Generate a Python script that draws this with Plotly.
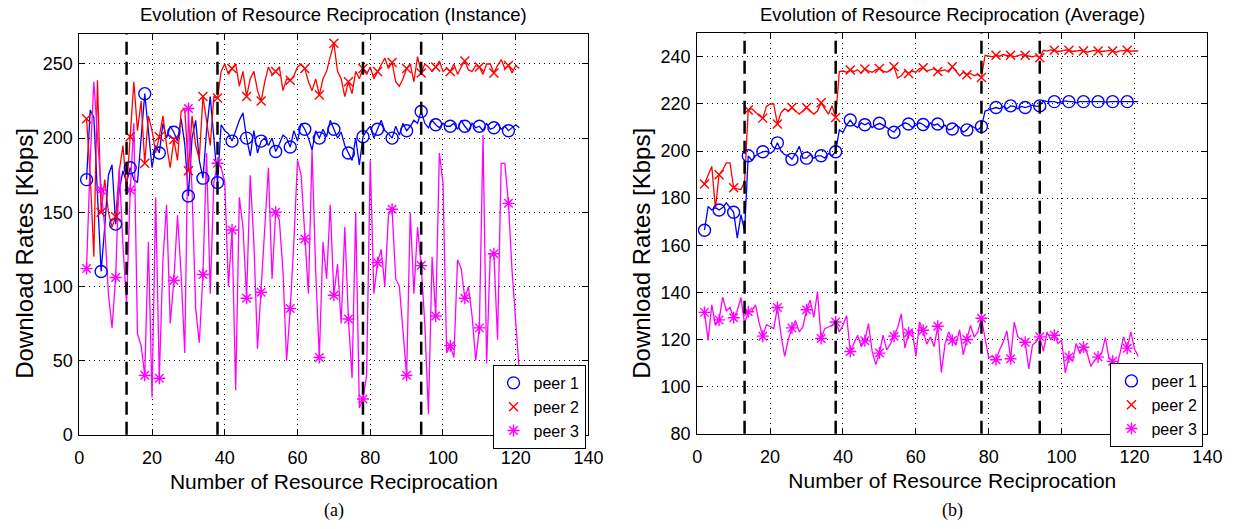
import plotly.graph_objects as go

# ---------------- data ----------------
reciprocation = list(range(2, 122))  # x index of each resource reciprocation
stage_boundaries = [13, 38, 78, 94]

# (a) Instance
peer1_inst = [172, 219, 214, 160, 110, 140, 175, 182, 142, 165,
              178, 170, 180, 172, 170, 200, 230, 205, 180, 195,
              190, 210, 200, 208, 204, 198, 213, 196, 161, 200,
              212, 185, 173, 205, 228, 200, 170, 209, 205, 203,
              198, 205, 212, 217, 200, 188, 205, 190, 198, 200,
              195, 200, 191, 196, 202, 200, 194, 205, 198, 210,
              206, 200, 192, 205, 200, 206, 201, 212, 206, 200,
              204, 195, 190, 185, 200, 182, 201, 205, 208, 200,
              206, 212, 205, 203, 200, 208, 202, 210, 205, 208,
              212, 210, 218, 210, 207, 212, 209, 207, 210, 208,
              208, 210, 206, 212, 208, 205, 210, 207, 208, 205,
              210, 206, 207, 210, 206, 208, 205, 207, 209, 207]
peer2_inst = [213, 175, 120, 239, 150, 172, 150, 140, 147, 178,
              195, 165, 201, 238, 205, 225, 183, 215, 205, 190,
              201, 215, 195, 180, 199, 185, 218, 220, 178, 215,
              195, 186, 228, 210, 195, 228, 227, 245, 250, 243,
              247, 250, 235, 245, 228, 240, 245, 232, 225, 238,
              248, 243, 245, 248, 232, 240, 239, 242, 248, 250,
              247, 238, 232, 240, 229, 240, 245, 255, 264, 245,
              240, 228, 238, 230, 245, 240, 247, 243, 248, 240,
              245, 250, 254, 247, 251, 238, 235, 240, 247, 250,
              238, 255, 244, 250, 248, 245, 248, 252, 245, 247,
              245, 250, 243, 248, 252, 246, 245, 249, 248, 243,
              250, 250, 244, 249, 253, 247, 249, 244, 249, 247]
peer3_inst = [112, 185, 238, 200, 165, 140, 95, 72, 106, 180,
              128, 88, 165, 210, 68, 60, 40, 130, 25, 160,
              38, 118, 155, 75, 104, 148, 108, 55, 220, 165,
              85, 62, 108, 190, 95, 170, 183, 180, 170, 100,
              138, 30, 160, 140, 92, 175, 130, 58, 96, 140,
              180, 105, 150, 145, 110, 50, 85, 130, 185, 175,
              132, 95, 192, 110, 52, 130, 105, 155, 94, 115,
              75, 140, 78, 38, 150, 18, 24, 40, 185, 95,
              116, 125, 100, 148, 152, 105, 100, 70, 40, 150,
              95, 140, 114, 75, 14, 120, 80, 190, 170, 55,
              60, 52, 118, 112, 92, 100, 80, 50, 72, 202,
              48, 122, 122, 64, 183, 183, 156, 110, 75, 42]

# (b) Average
peer1_avg = [166.4, 176.5, 175, 176, 175, 176, 178, 176, 174, 163,
             173, 166, 198, 196, 198, 199, 199.7, 200, 199, 200,
             203.5, 200, 198.5, 198, 196.5, 199, 202, 197, 197, 198.5,
             197, 198, 198, 197, 199, 198, 199.7, 209, 208, 211,
             213.2, 211, 210, 212, 211.2, 212, 210, 211, 211.8, 211,
             210, 209, 208, 210, 211, 212, 211.5, 210, 211, 212,
             211.3, 210, 212, 211, 211.5, 210, 211, 209, 209.4, 211,
             210, 208, 209, 211, 210, 209, 210.4, 217, 217.5, 218,
             218.5, 218, 219, 218, 219.2, 219, 218, 219, 218.5, 219,
             219.5, 219, 219.2, 221.5, 221, 221, 221, 220.5, 221, 221.3,
             221, 221, 220.5, 221, 221, 221, 221.2, 221, 221, 221,
             220.8, 221, 221, 221, 221, 221.2, 221, 221, 221.3, 221]
peer2_avg = [186, 190, 193.5, 175.4, 190, 192, 195, 195, 184.4, 184,
             183.7, 187, 217.4, 218, 216.4, 215, 214, 219, 220, 220,
             211.5, 216.4, 218, 217, 218.5, 217, 215.7, 217, 218.5, 217,
             215.7, 217, 220.5, 218, 215.7, 219.2, 214.3, 233.8, 234, 233.5,
             234.4, 233.8, 234.5, 233, 234.9, 234, 233.5, 234.5, 235.1, 234,
             233.5, 234.5, 235.8, 231, 232, 234, 233, 234, 233.5, 235,
             235.4, 234, 234.5, 235, 233.8, 234, 234.5, 233.5, 235.8, 234,
             232, 233.5, 232.4, 233, 232, 232.5, 231.3, 240.7, 240.5, 240,
             240.7, 240.3, 241, 240.5, 240.7, 240, 240.5, 241, 240.7, 240.3,
             240, 240.5, 239.6, 242.8, 242.5, 243, 242.8, 242.3, 242.5, 243,
             242.8, 242.3, 242.5, 242.8, 242.5, 242, 242.5, 242.8, 242.5, 242.3,
             242.5, 242.8, 242.5, 242, 242.6, 242.8, 242.8, 242.5, 242.5, 242.5]
peer3_avg = [131.5, 119.7, 134.7, 126, 128.3, 138, 132.2, 133.6, 129.2, 132.2,
             137.8, 126.7, 131.8, 132, 134.7, 127, 121.4, 126.3, 125.5, 124.6,
             133.6, 122, 112.8, 120, 124.9, 128, 123.2, 125.3, 132.6, 136.7,
             129.4, 140.3, 120.4, 124.6, 125.3, 126, 127.4, 123.2, 126, 130.1,
             114.9, 118, 121.8, 117, 119.4, 126.7, 115, 109.3, 114.2, 121.8,
             115.6, 118, 121.4, 125, 130.8, 116.3, 122.8, 123.9, 112.8, 127.4,
             123.9, 118, 121, 117, 125.6, 106, 118, 123.2, 119.7, 117.6,
             124.2, 113.5, 120, 126, 121, 123.2, 129, 120.4, 112.1, 113,
             111.4, 115.6, 119, 123.6, 111.8, 127.4, 121.1, 120, 118.8, 107.5,
             117.6, 119, 121.1, 114.9, 123.2, 120, 121.8, 118.3, 119.7, 105.8,
             112.5, 110.7, 118.3, 114, 116.7, 114.2, 108.6, 111, 112.5, 114.4,
             120.8, 112, 110.7, 108, 114, 121.1, 116.3, 123.2, 116, 112.8]

peer_names = ["peer 1", "peer 2", "peer 3"]
x_ticks = [0, 20, 40, 60, 80, 100, 120, 140]
y_ticks_inst = [0, 50, 100, 150, 200, 250]
y_ticks_avg = [80, 100, 120, 140, 160, 180, 200, 220, 240]

# ---------------- styling ----------------
W, H = 1246, 529
colors = ["#0000ff", "#ff0000", "#ff00ff"]
symbols = ["circle-open", "x-thin-open", "asterisk-open"]
msizes = [12, 9, 10]
FONT = "Liberation Sans"


def px_x(p):
    return p / W


def px_y(p):
    return 1 - p / H


fig = go.Figure()
panels = [
    ([peer1_inst, peer2_inst, peer3_inst], "x", "y", "legend"),
    ([peer1_avg, peer2_avg, peer3_avg], "x2", "y2", "legend2"),
]
for series, xa, ya, lg in panels:
    for i, vals in enumerate(series):
        fig.add_trace(go.Scatter(
            x=reciprocation, y=vals, mode="lines",
            line=dict(color=colors[i], width=1.3),
            xaxis=xa, yaxis=ya, showlegend=False, hoverinfo="skip"))
    for i, vals in enumerate(series):
        fig.add_trace(go.Scatter(
            x=reciprocation[0::4], y=vals[0::4], mode="markers",
            name=peer_names[i], legend=lg,
            marker=dict(symbol=symbols[i], size=msizes[i], color=colors[i],
                        line=dict(color=colors[i], width=1.4)),
            xaxis=xa, yaxis=ya, showlegend=True))

for xa in ["x", "x2"]:
    for b in stage_boundaries:
        fig.add_shape(type="line", xref=xa, yref=f"{'y' if xa == 'x' else 'y2'} domain",
                      x0=b, x1=b, y0=0, y1=1,
                      line=dict(color="black", width=2.5, dash="13px,7px"))

axis_common = dict(
    showline=True, linecolor="black", linewidth=1, mirror="ticks",
    ticks="inside", ticklen=6, tickcolor="black",
    showgrid=True, gridcolor="black", gridwidth=1, griddash="1px,4px",
    zeroline=False, tickfont=dict(family=FONT, size=18, color="black"),
)
xtitle = dict(text="Number of Resource Reciprocation", font=dict(size=21), standoff=7)

fig.update_layout(
    width=W, height=H, margin=dict(l=0, r=0, t=0, b=0),
    paper_bgcolor="white", plot_bgcolor="white",
    font=dict(family=FONT, color="black"),
    xaxis=dict(domain=[px_x(75.5), px_x(593)], range=[0, 140], tickvals=x_ticks,
               title=xtitle, anchor="y", ticklabelstandoff=7, **axis_common),
    yaxis=dict(domain=[px_y(443), px_y(35)], range=[0, 270], tickvals=y_ticks_inst,
               anchor="x", ticklabelstandoff=2, **axis_common),
    xaxis2=dict(domain=[px_x(703.5), px_x(1222)], range=[0, 140], tickvals=x_ticks,
                title=xtitle, anchor="y2", ticklabelstandoff=7, **axis_common),
    yaxis2=dict(domain=[px_y(442), px_y(34)], range=[80, 250], tickvals=y_ticks_avg,
                anchor="x2", ticklabelstandoff=2, **axis_common),
    legend=dict(x=px_x(590), y=px_y(372), xanchor="right", yanchor="top",
                bgcolor="white", bordercolor="black", borderwidth=1,
                font=dict(family=FONT, size=16, color="black"), tracegroupgap=0),
    legend2=dict(x=px_x(1218), y=px_y(370), xanchor="right", yanchor="top",
                 bgcolor="white", bordercolor="black", borderwidth=1,
                 font=dict(family=FONT, size=16, color="black"), tracegroupgap=0),
    showlegend=True,
)

titles = [("Evolution of Resource Reciprocation (Instance)", (75.5 + 593) / 2, "(a)", 19),
          ("Evolution of Resource Reciprocation (Average)", (703.5 + 1222) / 2, "(b)", 646)]
for t, cx, lab, ylab_x in titles:
    fig.add_annotation(text=t, x=px_x(cx), y=px_y(15), xref="paper", yref="paper",
                       showarrow=False, xanchor="center", yanchor="middle",
                       font=dict(family=FONT, size=18.5, color="black"))
    fig.add_annotation(text=lab, x=px_x(cx), y=px_y(520), xref="paper", yref="paper",
                       showarrow=False, xanchor="center", yanchor="middle",
                       font=dict(family="Liberation Serif", size=18, color="black"))
    fig.add_annotation(text="Download Rates [Kbps]", textangle=-90,
                       x=px_x(ylab_x), y=px_y(258), xref="paper", yref="paper",
                       showarrow=False, xanchor="center", yanchor="middle",
                       font=dict(family=FONT, size=24, color="black"))

fig.write_html("out.html")
